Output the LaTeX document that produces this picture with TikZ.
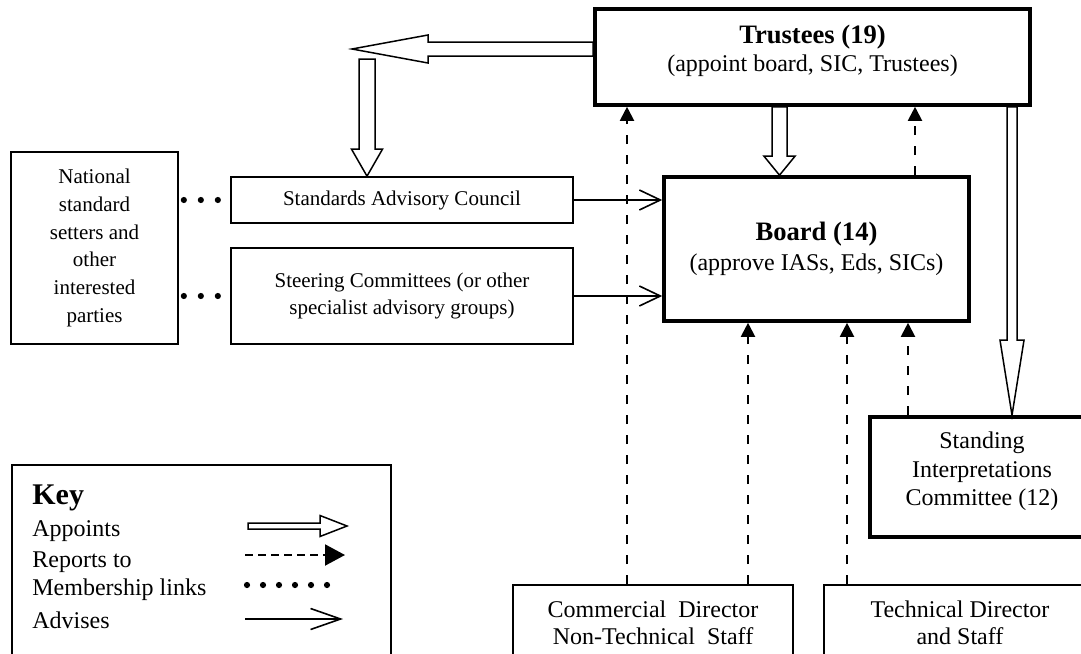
\documentclass[tikz,border=0pt]{standalone}
\usepackage{fontspec}
\setmainfont{Liberation Serif}
\usetikzlibrary{arrows.meta,calc}
\tikzstyle{thinbox} = [draw, rectangle, line width=0.85pt, align=center, inner sep=0pt, font=\fontsize{10.5}{13.9}\selectfont]
\tikzstyle{thickbox} = [draw, rectangle, line width=1.8pt, align=center, inner sep=0pt, font=\fontsize{12}{14.2}\selectfont]
\tikzstyle{staffbox} = [thinbox, font=\fontsize{12}{13.5}\selectfont]
\tikzstyle{keytext} = [anchor=west, inner sep=0pt, font=\fontsize{12}{14}\selectfont]
\tikzstyle{reports} = [line width=1pt, dash pattern=on 4.5pt off 5.5pt, -{Triangle[length=7pt,width=7pt]}]
\tikzstyle{advises} = [line width=0.8pt, -{Straight Barb[length=10.5pt,width=10pt]}]
\tikzstyle{member} = [line width=3.1pt, line cap=round, dash pattern=on 0pt off 8.5pt]
\tikzset{appoint/.style n args={3}{line width=0.75pt,
  to path={($(\tikztotarget)!#3!(\tikztostart)$) coordinate (hb)
    ($(\tikztostart)!#1!90:(\tikztotarget)$) -- ($(hb)!#1!90:(\tikztotarget)$)
    -- ($(hb)!#2!90:(\tikztotarget)$) -- (\tikztotarget)
    -- ($(hb)!#2!-90:(\tikztotarget)$) -- ($(hb)!#1!-90:(\tikztotarget)$)
    -- ($(\tikztostart)!#1!-90:(\tikztotarget)$) -- cycle}}}
\begin{document}
\begin{tikzpicture}[x=0.5pt, y=-0.5pt]
\useasboundingbox (0,0) rectangle (1081,653);

% Main bodies
\node[thickbox, minimum width=217.5pt, minimum height=48pt, text depth=9pt] (trustees) at (812.5,57) {{\fontsize{13.3}{14}\selectfont\bfseries Trustees (19)}\\(appoint board, SIC, Trustees)};
\node[thickbox, minimum width=152.5pt, minimum height=72pt] (board) at (816.5,249) {{\fontsize{13.3}{14}\selectfont\bfseries Board (14)}\\[0.8pt](approve IASs, Eds, SICs)};
\node[thickbox, minimum width=112pt, minimum height=60pt, text depth=8pt] (sic) at (982,477) {Standing\\Interpretations\\Committee (12)};

% Advisory side
\node[thinbox, minimum width=83.5pt, minimum height=96pt] (natl) at (94.5,248) {National\\standard\\setters and\\other\\interested\\parties};
\node[thinbox, minimum width=171pt, minimum height=23pt] (sac) at (402,200) {Standards Advisory Council};
\node[thinbox, minimum width=171pt, minimum height=48pt] (steer) at (402,296) {Steering Committees (or other\\specialist advisory groups)};

% Staff
\node[staffbox, minimum width=140pt, minimum height=38pt] (comm) at (653,623) {Commercial\ \ Director\\Non-Technical\ \ Staff};
\node[staffbox, minimum width=136pt, minimum height=38pt] (tech) at (960,623) {Technical Director\\and Staff};

% Appoints
\coordinate (fork) at (352,49);
\coordinate (forkdown) at (367,59);
\coordinate (sactop) at ($(sac.north)+(-35,0)$);
\coordinate (bdtop) at ($(board.north)+(-37,0)$);
\coordinate (sictop) at ($(sic.north)+(30,0)$);
\draw[appoint={3.5pt}{7pt}{38pt}] (trustees.west |- fork) to (fork);
\draw[appoint={4pt}{7.75pt}{13.5pt}] (forkdown) to (sactop);
\draw[appoint={3.75pt}{7.75pt}{9.5pt}] (trustees.south -| bdtop) to (bdtop);
\draw[appoint={2.5pt}{6pt}{37.5pt}] (trustees.south -| sictop) to (sictop);

% Reports to
\draw[reports] (comm.north -| 627,0) -- (trustees.south -| 627,0);
\draw[reports] (comm.north -| 748,0) -- (board.south -| 748,0);
\draw[reports] (tech.north -| 847,0) -- (board.south -| 847,0);
\draw[reports] (sic.north -| 908,0) -- (board.south -| 908,0);
\draw[reports] (board.north -| 915,0) -- (trustees.south -| 915,0);

% Advises
\draw[advises] (sac.east) -- (board.west |- sac.east);
\draw[advises] (steer.east) -- (board.west |- steer.east);

% Membership links
\draw[member, shorten <=2.5pt, shorten >=6pt] (natl.east |- sac.west) -- (sac.west);
\draw[member, shorten <=2.5pt, shorten >=6pt] (natl.east |- steer.west) -- (steer.west);

% Key
\node[thinbox, minimum width=189.5pt, minimum height=110pt] (keybox) at (201.5,575) {};
\node[keytext, font=\fontsize{15}{15}\selectfont\bfseries] (keytitle) at (32,498) {Key};
\node[keytext] (kapp) at (32,531) {Appoints};
\node[keytext] (krep) at (32,562) {Reports to};
\node[keytext] (kmem) at (32,590) {Membership links};
\node[keytext] (kadv) at (32,620) {Advises};
\coordinate (kapp1) at (248,526); \coordinate (kapp2) at (347,526);
\coordinate (krep1) at (245,555); \coordinate (krep2) at (345,555);
\coordinate (kmem1) at (247,585); \coordinate (kmem2) at (329,585);
\coordinate (kadv1) at (245,619); \coordinate (kadv2) at (343,619);
\draw[appoint={1.5pt}{5.25pt}{13.5pt}] (kapp1) to (kapp2);
\draw[reports, dash pattern=on 4pt off 2.5pt, -{Triangle[length=10pt,width=10.5pt]}] (krep1) -- (krep2);
\draw[member, dash pattern=on 0pt off 8pt] (kmem1) -- (kmem2);
\draw[advises, -{Straight Barb[length=15pt,width=10.5pt]}] (kadv1) -- (kadv2);
\end{tikzpicture}
\end{document}
